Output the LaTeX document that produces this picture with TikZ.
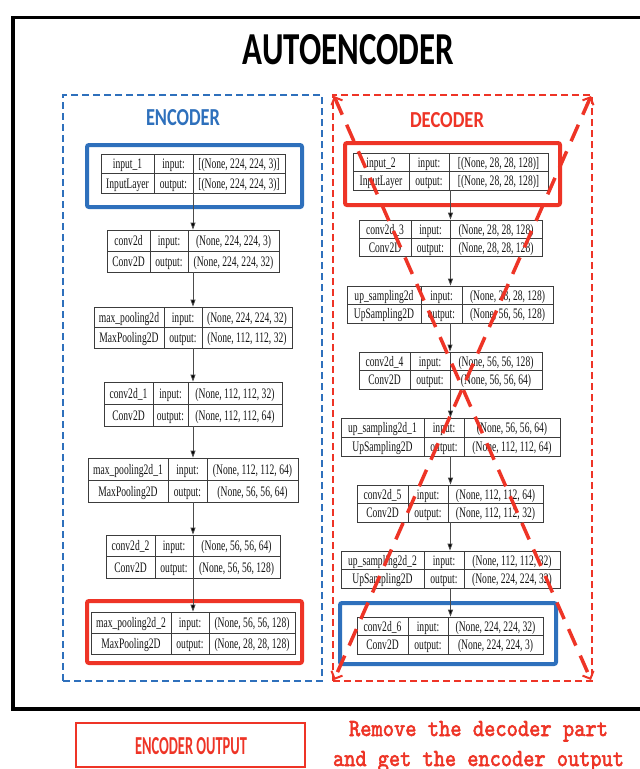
\documentclass[tikz,border=0pt]{standalone}
\usepackage{fontspec}
\usepackage{graphicx}
\setmainfont{Liberation Serif}
\newfontfamily\calfont{Carlito}
\newfontfamily\notefont[FakeBold=2.5]{lmmono10-regular.otf}
\usetikzlibrary{arrows.meta}
\definecolor{encblue}{RGB}{46,112,188}
\definecolor{decred}{RGB}{238,52,38}
\definecolor{tblgray}{RGB}{60,60,60}
\definecolor{txtgray}{RGB}{20,20,20}
\newcommand\sx[1]{\scalebox{0.66}[1]{#1}}
\def\parsecells#1/#2/#3/#4\relax{\def\ca{#1}\def\cb{#2}\def\cc{#3}\def\cd{#4}}
\newcommand\layer[8]{%
 \parsecells#8\relax
 \node[tbl, minimum width={(#4-#2)*1pt}, minimum height={(#5-#3)*1pt}] (#1) at ({(#2+#4)/2},{(#3+#5)/2}) {};
 \draw[tblline] (#6,#3) -- (#6,#5) (#7,#3) -- (#7,#5) (#2,{(#3+#5)/2}) -- (#4,{(#3+#5)/2});
 \node[cell] at ({(#2+#6)/2},{(3*#3+#5)/4+5}) {\sx{\ca}};
 \node[cell] at ({(#2+#6)/2},{(#3+3*#5)/4+5}) {\sx{\cb}};
 \node[cell] at ({(#6+#7)/2},{(3*#3+#5)/4+5}) {\sx{input:}};
 \node[cell] at ({(#6+#7)/2},{(#3+3*#5)/4+5}) {\sx{output:}};
 \node[cell] at ({(#7+#4)/2},{(3*#3+#5)/4+5}) {\sx{\cc}};
 \node[cell] at ({(#7+#4)/2},{(#3+3*#5)/4+5}) {\sx{\cd}};
}
\tikzset{
 tbl/.style={draw=tblgray, line width=0.8pt, inner sep=0pt, rectangle},
 tblline/.style={draw=tblgray, line width=0.8pt},
 cell/.style={anchor=base, inner sep=0pt, text=txtgray, font=\fontsize{14.5}{14.5}\selectfont},
 flow/.style={draw=black!70, line width=0.8pt, -{Triangle[length=7pt,width=5pt,fill=black]}},
 hlbox/.style={draw=#1, line width=4pt, rounded corners=2pt, inner sep=0pt, rectangle},
 partbox/.style={draw=#1, line width=2pt, dash pattern=on 7pt off 4pt, inner sep=0pt, rectangle},
 crossline/.style={draw=decred, line width=3.5pt, dash pattern=on 18pt off 11pt,
   {Straight Barb[length=6pt,width=12pt,line width=2pt]}-{Straight Barb[length=6pt,width=12pt,line width=2pt]}},
 note/.style={anchor=base, inner sep=0pt, text=decred, font=\notefont\fontsize{24}{24}\selectfont},
}
\begin{document}
\begin{tikzpicture}[x=1pt,y=-1pt]
\useasboundingbox (0,0) rectangle (640,769);
\clip (0,0) rectangle (640,769);
\fill[white] (0,0) rectangle (640,769);
% outer frame
\draw[line width=3.5pt] (13,17.5) rectangle (660,709);
% title
\node[inner sep=0pt, font=\calfont\bfseries] (title) at (348.5,50) {\resizebox{211pt}{30pt}{AUTOENCODER}};
% part boxes
\node[partbox=encblue, minimum width=259pt, minimum height=586pt] (enc) at (192.5,388) {};
\node[partbox=decred, minimum width=259pt, minimum height=586pt] (dec) at (462.5,388) {};
\node[inner sep=0pt, text=encblue, font=\calfont\bfseries] (enclabel) at (183,118) {\resizebox{74pt}{16pt}{ENCODER}};
\node[inner sep=0pt, text=decred, font=\calfont\bfseries] (declabel) at (447,120.5) {\resizebox{74pt}{15pt}{DECODER}};
% highlight boxes
\node[hlbox=encblue, minimum width=215pt, minimum height=62pt] (hlE1) at (194.5,176) {};
\node[hlbox=decred, minimum width=215pt, minimum height=62pt] (hlE7) at (194.5,632) {};
\node[hlbox=decred, minimum width=215pt, minimum height=62pt] (hlD1) at (452.5,174) {};
\node[hlbox=encblue, minimum width=216pt, minimum height=61pt] (hlD8) at (448,633.5) {};
% encoder layers
\layer{e1}{101}{154}{285}{193}{154}{193}{input\_1/InputLayer/[(None, 224, 224, 3)]/[(None, 224, 224, 3)]}
\layer{e2}{107}{230}{279}{272}{150}{188}{conv2d/Conv2D/(None, 224, 224, 3)/(None, 224, 224, 32)}
\layer{e3}{94}{307}{292}{348}{164}{202}{max\_pooling2d/MaxPooling2D/(None, 224, 224, 32)/(None, 112, 112, 32)}
\layer{e4}{104}{382}{282}{426}{153}{188}{conv2d\_1/Conv2D/(None, 112, 112, 32)/(None, 112, 112, 64)}
\layer{e5}{88}{458}{298}{502}{168}{207}{max\_pooling2d\_1/MaxPooling2D/(None, 112, 112, 64)/(None, 56, 56, 64)}
\layer{e6}{106}{535}{280}{578}{155}{193}{conv2d\_2/Conv2D/(None, 56, 56, 64)/(None, 56, 56, 128)}
\layer{e7}{91}{612}{295}{654}{171}{209}{max\_pooling2d\_2/MaxPooling2D/(None, 56, 56, 128)/(None, 28, 28, 128)}
% decoder layers
\layer{d1}{353}{153}{548}{190}{409}{449}{input\_2/InputLayer/[(None, 28, 28, 128)]/[(None, 28, 28, 128)]}
\layer{d2}{359}{220}{542}{256}{411}{450}{conv2d\_3/Conv2D/(None, 28, 28, 128)/(None, 28, 28, 128)}
\layer{d3}{347}{286}{553}{323}{421}{462}{up\_sampling2d/UpSampling2D/(None, 28, 28, 128)/(None, 56, 56, 128)}
\layer{d4}{359}{352}{542}{389}{410}{450}{conv2d\_4/Conv2D/(None, 56, 56, 128)/(None, 56, 56, 64)}
\layer{d5}{341}{418}{560}{456}{424}{464}{up\_sampling2d\_1/UpSampling2D/(None, 56, 56, 64)/(None, 112, 112, 64)}
\layer{d6}{357}{485}{543}{522}{408}{448}{conv2d\_5/Conv2D/(None, 112, 112, 64)/(None, 112, 112, 32)}
\layer{d7}{341}{551}{560}{588}{424}{464}{up\_sampling2d\_2/UpSampling2D/(None, 112, 112, 32)/(None, 224, 224, 32)}
\layer{d8}{357}{617}{543}{654}{408}{448}{conv2d\_6/Conv2D/(None, 224, 224, 32)/(None, 224, 224, 3)}
% connectors
\foreach \a/\b in {e1/e2,e2/e3,e3/e4,e4/e5,e5/e6,e6/e7,d1/d2,d2/d3,d3/d4,d4/d5,d5/d6,d6/d7,d7/d8}
  \draw[flow] (\a.south) -- (\a.south |- \b.north);
% crossing lines over the decoder
\draw[crossline] ([xshift=2pt,yshift=-2pt]dec.north west) -- ([xshift=-2pt,yshift=2pt]dec.south east);
\draw[crossline] ([xshift=-2pt,yshift=-2pt]dec.north east) -- ([xshift=2pt,yshift=2pt]dec.south west);
% bottom
\node[draw=decred, line width=2pt, minimum width=229pt, minimum height=44pt, inner sep=0pt] (encout) at (190.5,745) {};
\node[inner sep=0pt, text=decred, font=\calfont\bfseries] (encouttext) at (191,746.5) {\resizebox{112pt}{17pt}{ENCODER OUTPUT}};
\node[note] (note1) at (478.5,736) {\resizebox{259pt}{15pt}{Remove the decoder part}};
\node[note] (note2) at (478.5,766) {\resizebox{291pt}{15pt}{and get the encoder output}};
\end{tikzpicture}
\end{document}
